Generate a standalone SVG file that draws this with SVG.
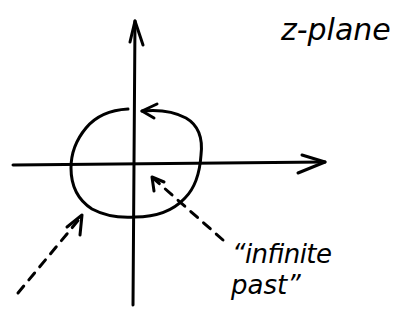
<svg xmlns="http://www.w3.org/2000/svg" width="401" height="322" viewBox="0 0 401 322">
<style>
.s{fill:none;stroke:#000;stroke-width:3;stroke-linecap:round;stroke-linejoin:round}
.d{stroke-dasharray:9 8}
.t{font-family:"DejaVu Sans",sans-serif;font-style:italic;font-size:26px;fill:#000}
</style>
<rect width="401" height="322" fill="#fff"/>
<g id="connectors">
<g id="y-axis"><path class="s" d="M133,305 L135,21"/><path class="s" d="M130,42 L135,21 L143,45"/></g>
<g id="x-axis"><path class="s" d="M13,165 L325,162"/><path class="s" d="M302,155 L325,162 L298,173"/></g>
<g id="unit-circle"><path class="s" d="M128,109 C110,110 95,117 86,128 C76,140 71,155 71,168 C71,185 78,200 92,209 C105,216 120,218 135,217 C155,217 172,212 185,198 C197,186 200,170 201,155 C203,138 198,125 186,118 C175,112 162,109 142,111"/><path class="s" d="M157,104 L142,111 L154,118"/></g>
<g id="dashed-right"><path class="s d" d="M223,240 L154,179"/><path class="s" d="M154,191 L152,177 L164,182"/></g>
<g id="dashed-left"><path class="s d" d="M18,293 L81,217"/><path class="s" d="M67,227 L82,215 L80,235"/></g>
</g>
<g id="label-zplane"><text class="t" x="281" y="40" style="font-size:30px">z-plane</text></g>
<g id="label-past"><text class="t" x="232" y="263" textLength="100" lengthAdjust="spacing">“infinite</text><text class="t" x="231" y="294">past”</text></g>
</svg>
